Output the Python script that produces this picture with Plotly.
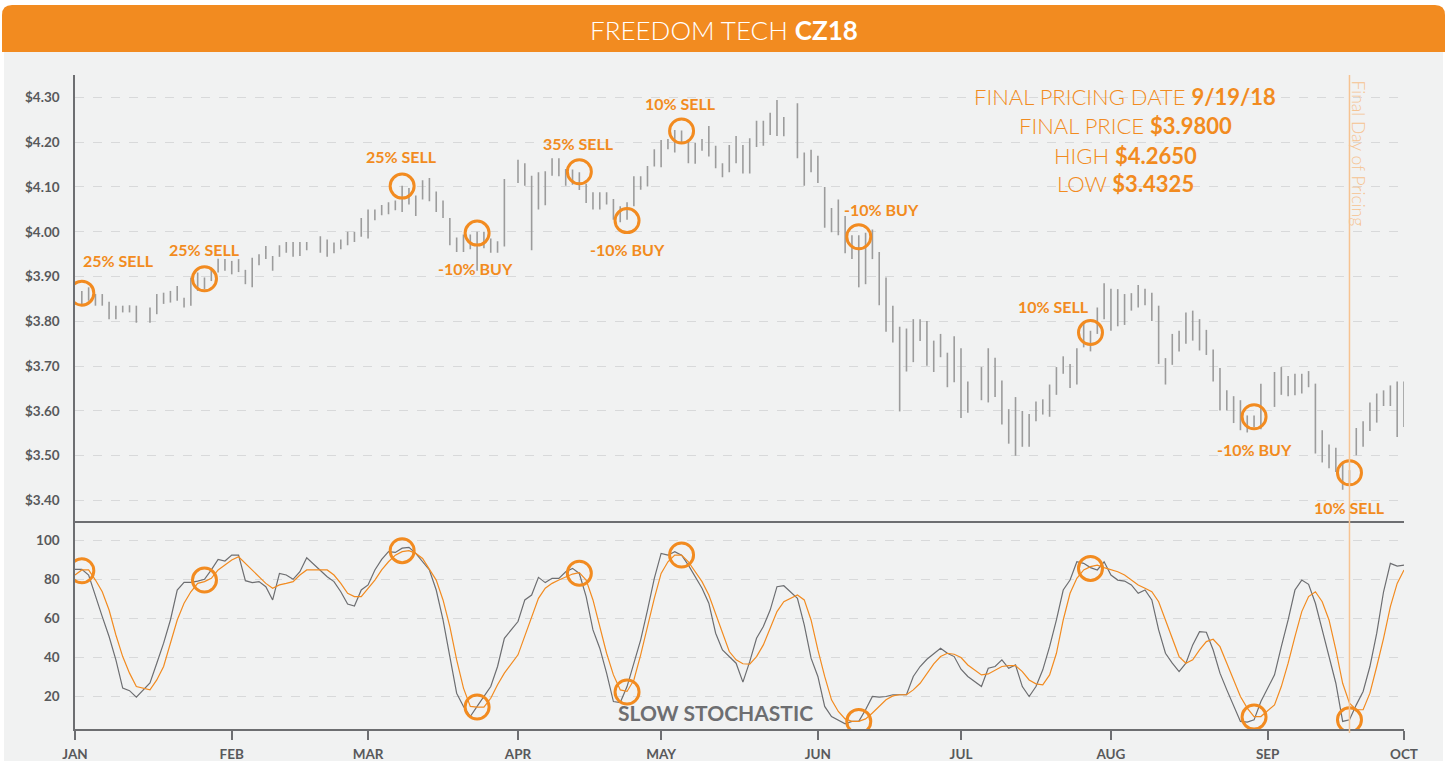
import pandas as pd
import plotly.graph_objects as go
from plotly.subplots import make_subplots

# ---------------- DATA ----------------
HOLIDAYS = ["2018-01-15", "2018-02-19", "2018-03-30", "2018-05-28", "2018-07-04", "2018-09-03"]
trade_days = [d.strftime("%Y-%m-%d") for d in pd.bdate_range("2018-01-02", "2018-10-01")
              if d.strftime("%Y-%m-%d") not in HOLIDAYS]
stoch_days = ["2018-01-01"] + trade_days

high_jan = [3.868, 3.876, 3.861, 3.861, 3.844, 3.835, 3.835, 3.836, 3.835, 3.831, 3.861, 3.864, 3.868, 3.879, 3.853, 3.898, 3.909, 3.898, 3.92, 3.94, 3.939]
low_jan = [3.839, 3.846, 3.835, 3.835, 3.805, 3.805, 3.82, 3.82, 3.797, 3.797, 3.816, 3.839, 3.842, 3.846, 3.831, 3.835, 3.868, 3.872, 3.89, 3.909, 3.913]
high_feb = [3.935, 3.939, 3.915, 3.942, 3.95, 3.968, 3.946, 3.97, 3.977, 3.977, 3.977, 3.977, 3.99, 3.983, 3.976, 3.983, 4.0, 4.0, 4.031]
low_feb = [3.905, 3.91, 3.883, 3.876, 3.925, 3.939, 3.913, 3.944, 3.953, 3.944, 3.946, 3.959, 3.953, 3.944, 3.952, 3.961, 3.97, 3.977, 3.989]
high_mar = [4.05, 4.05, 4.06, 4.066, 4.07, 4.103, 4.098, 4.081, 4.115, 4.12, 4.09, 4.07, 4.031, 3.987, 3.994, 3.994, 4.0, 4.0, 3.985, 3.979, 4.118]
low_mar = [3.985, 4.026, 4.037, 4.039, 4.048, 4.044, 4.061, 4.035, 4.072, 4.068, 4.044, 4.031, 3.97, 3.955, 3.955, 3.961, 3.913, 3.963, 3.953, 3.953, 3.967]
high_apr = [4.161, 4.153, 4.125, 4.133, 4.135, 4.164, 4.164, 4.14, 4.139, 4.133, 4.107, 4.088, 4.088, 4.088, 4.073, 4.057, 4.066, 4.124, 4.124, 4.147, 4.184]
low_apr = [4.109, 4.103, 3.959, 4.05, 4.059, 4.125, 4.124, 4.103, 4.105, 4.093, 4.064, 4.05, 4.05, 4.061, 4.027, 4.021, 4.027, 4.057, 4.094, 4.101, 4.146]
high_may = [4.205, 4.207, 4.227, 4.226, 4.201, 4.198, 4.207, 4.236, 4.192, 4.153, 4.194, 4.214, 4.194, 4.209, 4.248, 4.248, 4.266, 4.294, 4.256, 4.287, 4.177, 4.183]
low_may = [4.144, 4.184, 4.177, 4.2, 4.153, 4.152, 4.181, 4.168, 4.142, 4.122, 4.133, 4.153, 4.13, 4.13, 4.189, 4.192, 4.216, 4.214, 4.213, 4.164, 4.103, 4.133]
high_jun = [4.17, 4.1, 4.053, 4.072, 4.035, 3.992, 3.992, 3.998, 4.005, 3.955, 3.898, 3.835, 3.788, 3.784, 3.805, 3.805, 3.801, 3.757, 3.772, 3.73, 3.767]
low_jun = [4.109, 4.009, 3.999, 3.992, 3.952, 3.939, 3.876, 3.883, 3.939, 3.836, 3.777, 3.753, 3.599, 3.688, 3.709, 3.756, 3.701, 3.687, 3.72, 3.653, 3.664]
high_jul = [3.74, 3.666, 3.698, 3.74, 3.719, 3.668, 3.604, 3.631, 3.60, 3.593, 3.621, 3.626, 3.659, 3.698, 3.722, 3.705, 3.74, 3.801, 3.779, 3.831, 3.885]
low_jul = [3.584, 3.596, 3.624, 3.619, 3.631, 3.57, 3.527, 3.5, 3.52, 3.52, 3.577, 3.592, 3.587, 3.636, 3.683, 3.651, 3.659, 3.742, 3.733, 3.772, 3.805]
high_aug = [3.873, 3.872, 3.861, 3.863, 3.881, 3.873, 3.864, 3.835, 3.718, 3.772, 3.779, 3.82, 3.824, 3.805, 3.781, 3.737, 3.696, 3.646, 3.633, 3.624, 3.59, 3.59, 3.661]
low_aug = [3.779, 3.789, 3.792, 3.824, 3.831, 3.836, 3.801, 3.705, 3.659, 3.703, 3.733, 3.75, 3.757, 3.735, 3.725, 3.666, 3.601, 3.601, 3.573, 3.557, 3.552, 3.564, 3.559]
high_sep = [3.687, 3.698, 3.678, 3.683, 3.683, 3.689, 3.661, 3.557, 3.525, 3.518, 3.487, 3.468, 3.562, 3.577, 3.619, 3.639, 3.646, 3.657, 3.666, 3.666]
low_sep = [3.609, 3.636, 3.633, 3.635, 3.639, 3.653, 3.505, 3.485, 3.472, 3.464, 3.424, 3.435, 3.501, 3.52, 3.555, 3.574, 3.611, 3.611, 3.542, 3.564]

highs = high_jan + high_feb + high_mar + high_apr + high_may + high_jun + high_jul + high_aug + high_sep
lows = low_jan + low_feb + low_mar + low_apr + low_may + low_jun + low_jul + low_aug + low_sep

k_jan = [85.3, 85.3, 82.4, 71.3, 61, 50.8, 38.8, 24.3, 23, 19.7, 27, 37.1, 47.4, 59.3, 74.7, 78.6, 78.6, 79.3, 80.2, 85, 90.4, 89.6]
k_feb = [92.6, 92.6, 79.5, 78.5, 79, 76.4, 69.6, 83.2, 82.4, 80.2, 84.1, 91.3, 85, 81.5, 79, 73.8, 67.5, 66.5, 74.7]
k_mar = [77.3, 85, 90.4, 94.4, 94, 96.2, 96.6, 93.5, 89.2, 85, 74.7, 59.3, 40.5, 21.7, 14.9, 9.7, 14.9, 20, 25.1, 35.4, 49.9]
k_apr = [58.5, 69.6, 72.1, 81.2, 78.5, 80.7, 80.7, 84.1, 85.8, 83.2, 71.3, 54.2, 44.8, 32, 17.4, 16.9, 25.1, 37.1, 49.1, 64.4, 80.7]
k_may = [93.5, 92.6, 94.4, 92.6, 87.5, 81.5, 75.6, 67.9, 52.5, 43.9, 40.5, 37.1, 27.4, 37.9, 49.9, 55.9, 64.4, 76.4, 76.9, 70.4, 56.8, 39.7]
k_jun = [30.3, 14.9, 9.7, 8, 6, 7.2, 7.2, 13.2, 20, 19.7, 20, 20.9, 20.9, 20.9, 30.3, 35.4, 39.1, 42.2, 44.8, 42.2, 40.5]
k_jul = [34, 30.3, 25.1, 34.5, 35.4, 38.8, 34.5, 36.2, 25.1, 20, 25.1, 33.7, 45.6, 59.3, 74.7, 79.8, 89.2, 88.4, 86.2, 85, 89.2]
k_aug = [82.4, 79.8, 79.3, 77.3, 73, 74.7, 69.6, 54.2, 42.2, 37.1, 32.8, 37.1, 46.5, 53.3, 53, 43.9, 32, 23.4, 15.7, 7.2, 6.8, 8, 17.4]
k_sep = [31.1, 45.6, 59.3, 74.7, 79.8, 77.6, 67.9, 54.2, 40.5, 26.8, 7.2, 8, 15.7, 22.6, 35.4, 52.5, 73.8, 88.4, 87, 87.5]

d_jan = [82.4, 85, 85, 79.8, 73.8, 64.4, 51.6, 40.5, 32, 25.1, 23.4, 28.5, 35.4, 47.4, 59.3, 67.9, 73.8, 78.1, 79, 80.7, 85, 87.5]
d_feb = [90.1, 91.8, 88.4, 85, 81.5, 78.1, 75.6, 77.3, 78.1, 79, 82.4, 85, 85, 85, 82.4, 78.1, 73, 71.3, 71.3]
d_mar = [75.6, 79.8, 85, 89.2, 92.6, 94.4, 94.9, 93.5, 90.9, 85, 79.8, 69.6, 55.9, 38.8, 24.3, 14.9, 14.5, 14.5, 19.1, 26, 32]
d_apr = [41.4, 50.8, 61, 70.4, 75.6, 78.1, 79.8, 81.5, 82.9, 83.6, 79.8, 69.6, 55.9, 42.2, 31.1, 23.4, 22.6, 28.5, 41.4, 55.9, 70.4]
d_may = [83.2, 89.2, 92.6, 92.6, 89.2, 84.1, 79, 72.1, 62.7, 52.5, 43.1, 38.8, 36.8, 36.6, 40.5, 46.5, 55, 63.6, 68.7, 72.1, 69.6, 59.3]
d_jun = [43.9, 30.3, 18.3, 12.3, 8.5, 7.2, 7.2, 8.5, 11.5, 14.9, 18.3, 20.3, 20.9, 20.9, 23.4, 26.8, 31.6, 36.8, 40.5, 42.2, 41.7]
d_jul = [40, 36.2, 31.1, 31.6, 33.3, 35.4, 35.9, 35.9, 32.8, 28.5, 26.5, 26, 31.1, 42.2, 59.3, 73, 80.7, 85, 86.7, 87.5, 86.2]
d_aug = [85.3, 84.1, 82.4, 79.8, 77.3, 75.6, 73.8, 68.7, 59.3, 50.8, 40.5, 37.1, 38.8, 43.9, 48.2, 49.4, 45.6, 37.1, 28.5, 20, 14, 9.7, 9.7]
d_sep = [15.7, 25.1, 37.1, 50.8, 63.6, 71.3, 73.8, 68.7, 59.3, 43.9, 26.8, 16.6, 13.2, 13.2, 21.7, 35.4, 49.9, 66.2, 78.1, 85]

stoch_k = k_jan + k_feb + k_mar + k_apr + k_may + k_jun + k_jul + k_aug + k_sep
stoch_d = d_jan + d_feb + d_mar + d_apr + d_may + d_jun + d_jul + d_aug + d_sep

signal_dates = ["2018-01-02", "2018-01-26", "2018-03-08", "2018-03-23", "2018-04-13", "2018-04-24",
                "2018-05-04", "2018-06-11", "2018-07-27", "2018-08-30", "2018-09-19"]
signal_price = [3.863, 3.895, 4.102, 3.997, 4.134, 4.025, 4.225, 3.989, 3.775, 3.587, 3.462]
signal_stoch = [84.6, 79.8, 94.9, 14.6, 83.3, 22.3, 92.7, 7.2, 85.8, 9.4, 8.0]
signal_text = ["25% SELL", "25% SELL", "25% SELL", "-10% BUY", "35% SELL", "-10% BUY",
               "10% SELL", "-10% BUY", "10% SELL", "-10% BUY", "10% SELL"]
label_price = [3.937, 3.961, 4.169, 3.919, 4.198, 3.961, 4.287, 4.049, 3.834, 3.513, 3.384]
label_shift = [37, 0, -1, -2, -1, 0, -1, 23, -37, 0, 0]

month_ticks = ["2018-01-01", "2018-02-01", "2018-03-01", "2018-04-02", "2018-05-01",
               "2018-06-01", "2018-07-02", "2018-08-01", "2018-09-03", "2018-10-01"]
month_labels = ["JAN", "FEB", "MAR", "APR", "MAY", "JUN", "JUL", "AUG", "SEP", "OCT"]
price_ticks = [3.4, 3.5, 3.6, 3.7, 3.8, 3.9, 4.0, 4.1, 4.2, 4.3]
stoch_ticks = [20, 40, 60, 80, 100]
final_day = "2018-09-19"
info_lines = [("FINAL PRICING DATE", "9/19/18"), ("FINAL PRICE", "$3.9800"),
              ("HIGH", "$4.2650"), ("LOW", "$3.4325")]

# ---------------- STYLE ----------------
W, H = 1447, 761
L, R, T, B = 75, 1404, 75, 729
ORANGE = "#f28b20"
LIGHT_OR = "#f6c391"
GRAY_TXT = "#58595b"
AXIS = "#6d6e71"
FONT = "Lato, 'Open Sans', sans-serif"


def xp(px):
    return (px - L) / (R - L)


def yp(py):
    return (B - py) / (B - T)


fig = make_subplots(rows=2, cols=1, shared_xaxes=True, vertical_spacing=0)

bx, by = [], []
for d, hi, lo in zip(trade_days, highs, lows):
    bx += [d, d, None]
    by += [lo, hi, None]
fig.add_trace(go.Scatter(x=bx, y=by, mode="lines", line=dict(color="#9c9c9c", width=1.6),
                         hoverinfo="skip", showlegend=False), row=1, col=1)

fig.add_trace(go.Scatter(x=stoch_days, y=stoch_k, mode="lines", line=dict(color="#6d6e71", width=1.2),
                         showlegend=False), row=2, col=1)
fig.add_trace(go.Scatter(x=stoch_days, y=stoch_d, mode="lines", line=dict(color=ORANGE, width=1.2),
                         showlegend=False), row=2, col=1)

ring = dict(symbol="circle-open", size=24, color=ORANGE, line=dict(width=3, color=ORANGE))
fig.add_trace(go.Scatter(x=signal_dates, y=signal_price, mode="markers", marker=ring,
                         showlegend=False), row=1, col=1)
fig.add_trace(go.Scatter(x=signal_dates, y=signal_stoch, mode="markers", marker=ring,
                         showlegend=False), row=2, col=1)

for d, t, yv, sh in zip(signal_dates, signal_text, label_price, label_shift):
    fig.add_annotation(x=d, y=yv, xref="x", yref="y", text=t, showarrow=False, xshift=sh,
                       xanchor="center", yanchor="middle",
                       font=dict(family=FONT, size=16, color=ORANGE, weight=700))

# background panel / header
shapes = [
    dict(type="rect", xref="paper", yref="paper", x0=xp(4), x1=xp(1443), y0=yp(W), y1=yp(52),
         fillcolor="#f1f2f2", line=dict(width=0), layer="below"),
]
r = 10
x0h, x1h, ytop, ybot = 2, 1445, 5, 52
path = (f"M {xp(x0h)},{yp(ybot)} L {xp(x0h)},{yp(ytop + r)} Q {xp(x0h)},{yp(ytop)} {xp(x0h + r)},{yp(ytop)} "
        f"L {xp(x1h - r)},{yp(ytop)} Q {xp(x1h)},{yp(ytop)} {xp(x1h)},{yp(ytop + r)} "
        f"L {xp(x1h)},{yp(ybot)} Z")
shapes.append(dict(type="path", path=path, xref="paper", yref="paper", fillcolor=ORANGE,
                   line=dict(width=0), layer="below"))
shapes.append(dict(type="line", xref="x", yref="paper", x0=final_day, x1=final_day, y0=-0.006, y1=1,
                   line=dict(color=LIGHT_OR, width=1.5), layer="above"))
fig.update_layout(shapes=shapes)

fig.add_annotation(xref="paper", yref="paper", x=xp(723.5), y=yp(30), showarrow=False,
                   xanchor="center", yanchor="middle",
                   text="FREEDOM TECH <b>CZ18</b>",
                   font=dict(family=FONT, size=26, color="white", weight=300))

for k, (lab, val) in enumerate(info_lines):
    fig.add_annotation(xref="paper", yref="paper", x=xp(1125), y=yp([97, 125, 155, 184][k]),
                       showarrow=False, xanchor="center", yanchor="middle",
                       text=f"{lab} <b>{val}</b>",
                       font=dict(family=FONT, size=22, color=ORANGE, weight=300))

fig.add_annotation(x=final_day, xref="x", yref="paper", y=yp(154), xshift=10, textangle=90,
                   showarrow=False, xanchor="center", yanchor="middle", text="Final Day of Pricing",
                   font=dict(family=FONT, size=17.5, color=LIGHT_OR, weight=300))

fig.add_annotation(xref="paper", yref="paper", x=xp(715), y=yp(712), showarrow=False,
                   xanchor="center", yanchor="middle",
                   text="<b>SLOW STOCHASTIC</b>", font=dict(family=FONT, size=21, color=AXIS))

xcommon = dict(type="date", range=["2018-01-01", "2018-10-01"],
               rangebreaks=[dict(bounds=["sat", "mon"])], showgrid=False, zeroline=False,
               automargin=False, fixedrange=True)
fig.update_xaxes(**xcommon)
fig.update_xaxes(row=1, col=1, showline=True, linecolor=AXIS, linewidth=2, ticks="", showticklabels=False)
fig.update_xaxes(row=2, col=1, showline=True, linecolor=AXIS, linewidth=1.5,
                 tickvals=month_ticks, ticktext=month_labels, ticks="outside", ticklen=9,
                 tickwidth=1.5, tickcolor=AXIS, ticklabelstandoff=3,
                 tickfont=dict(family=FONT, size=13.5, color=GRAY_TXT, weight=700))

grid = dict(showgrid=True, gridcolor="#d8d9da", gridwidth=1, griddash="dash", zeroline=False,
            showline=True, linecolor=AXIS, linewidth=1.5, ticks="", ticklabelstandoff=11,
            automargin=False, fixedrange=True,
            tickfont=dict(family=FONT, size=13.5, color=GRAY_TXT, weight=700))
fig.update_yaxes(row=1, col=1, range=[3.355, 4.35], tickvals=price_ticks,
                 ticktext=[f"${v:.2f}" for v in price_ticks], domain=[0.3185, 1], **grid)
fig.update_yaxes(row=2, col=1, range=[3.3, 110.3], tickvals=stoch_ticks,
                 ticktext=[str(v) for v in stoch_ticks], domain=[0, 0.3185], **grid)

fig.update_layout(width=W, height=H, margin=dict(l=L, r=W - R, t=T, b=H - B),
                  paper_bgcolor="white", plot_bgcolor="rgba(0,0,0,0)",
                  showlegend=False, hovermode=False, font=dict(family=FONT))

fig.write_html("out.html")
